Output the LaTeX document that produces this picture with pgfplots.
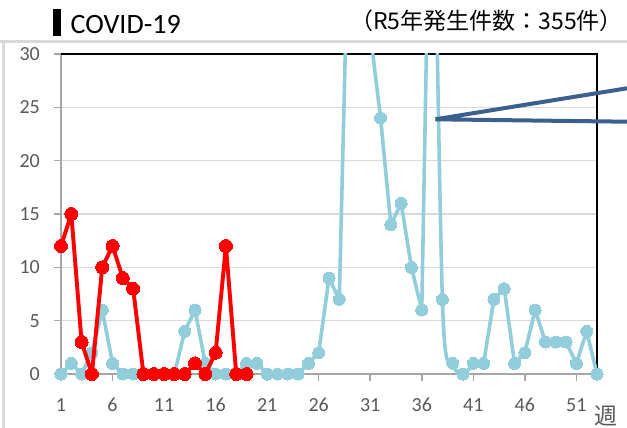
\documentclass[border=0pt]{standalone}
\usepackage{pgfplots}
\usepackage{pgfplotstable}
\pgfplotsset{compat=1.18}
\usepackage{fontspec}
\setmainfont{Carlito}
\newfontfamily\cjk{Noto Sans CJK JP}
\definecolor{lblue}{RGB}{146,205,220}
\definecolor{cred}{RGB}{255,0,0}
\definecolor{callout}{RGB}{59,95,143}
\definecolor{gridgray}{RGB}{217,217,217}
\definecolor{axisgray}{RGB}{166,166,166}
\definecolor{labelgray}{RGB}{89,89,89}

\pgfplotstableread{
week val
1 0
2 1
3 0
4 2
5 6
6 1
7 0
8 0
9 0
10 0
11 0
12 0
13 4
14 6
15 1
16 0
17 0
18 0
19 1
20 1
21 0
22 0
23 0
24 0
25 1
26 2
27 9
28 7
29 47
30 56
31 32
32 24
33 14
34 16
35 10
36 6
37 60
38 7
39 1
40 0
41 1
42 1
43 7
44 8
45 1
46 2
47 6
48 3
49 3
50 3
51 1
52 4
53 0
}\bluedata

\pgfplotstableread{
week val
1 0
2 1
3 0
4 2
5 6
6 1
7 0
8 0
9 0
10 0
11 0
12 0
13 4
14 6
15 1
16 0
17 0
18 0
19 1
20 1
21 0
22 0
23 0
24 0
25 1
26 2
27 9
28 7
32 24
33 14
34 16
35 10
36 6
38 7
39 1
40 0
41 1
42 1
43 7
44 8
45 1
46 2
47 6
48 3
49 3
50 3
51 1
52 4
53 0
}\bluemarks

\pgfplotstableread{
week val
1 12
2 15
3 3
4 0
5 10
6 12
7 9
8 8
9 0
10 0
11 0
12 0
13 0
14 1
15 0
16 2
17 12
18 0
19 0
}\reddata

\begin{document}
\begin{tikzpicture}
% outer frame
\draw[gridgray, line width=2.5bp] (-61bp,332.5bp) -- (566bp,332.5bp);
\draw[gridgray, line width=2.5bp] (-57.5bp,332.5bp) -- (-57.5bp,-54bp);
\begin{axis}[
  scale only axis, width=536bp, height=320bp,
  at={(0,0)}, anchor=south west,
  xmin=1, xmax=53, ymin=0, ymax=30,
  xtick={1,6,...,51}, ytick={0,5,...,30},
  xtick pos=bottom, ytick pos=left,
  tick align=outside, major tick length=7bp,
  tick style={draw=axisgray, line width=1.5bp},
  axis line style={draw=none},
  ymajorgrids, grid style={draw=gridgray, line width=1.3bp},
  clip mode=individual,
  /pgf/number format/assume math mode=true,
  ticklabel style={font=\fontsize{20bp}{24bp}\selectfont, text=labelgray, inner sep=0pt},
  yticklabel style={anchor=east, xshift=-14bp},
  xticklabel style={anchor=north, yshift=-17bp},
  bluel/.style={lblue, line width=3.6bp, mark=none, line join=round},
]
\draw[axisgray, line width=2.5bp] (rel axis cs:0,1) -- (rel axis cs:0,0) -- (rel axis cs:1,0);
\draw[black, line width=2.5bp] (rel axis cs:0,1) -- (rel axis cs:1,1) -- (rel axis cs:1,0);
\addplot[bluel, restrict x to domain=1:37] table[x=week, y=val] {\bluedata};
\addplot[bluel, smooth, restrict x to domain=37:41] table[x=week, y=val] {\bluedata};
\addplot[bluel, restrict x to domain=41:53] table[x=week, y=val] {\bluedata};
\addplot[only marks, mark=*, mark size=6bp, mark options={fill=lblue, draw=lblue, line width=0pt}] table[x=week, y=val] {\bluemarks};
\addplot[cred, line width=3.9bp, line join=round, mark=*, mark size=6.5bp, mark options={fill=cred, draw=cred, line width=0pt}] table[x=week, y=val] {\reddata};
\end{axis}
% callout leader lines
\draw[callout, line width=4bp, line cap=round] (566bp,285.7bp) -- (374.5bp,254.7bp) -- (566bp,252.3bp);
% title
\fill[black] (-8.3bp,338bp) rectangle (-0.3bp,364.7bp);
\node[anchor=base west, inner sep=0pt, font=\fontsize{28bp}{32bp}\selectfont] at (9.5bp,340.7bp) {COVID-19};
\node[anchor=base east, inner sep=0pt, font=\cjk\fontsize{23bp}{26bp}\selectfont] at (562bp,344bp) {（R5年発生件数：355件）};
\node[inner sep=0pt, text=labelgray, font=\cjk\fontsize{23bp}{26bp}\selectfont] at (545bp,-42bp) {週};
\pgfresetboundingbox
\path[use as bounding box] (-61bp,-54bp) rectangle (566bp,374bp);
\end{tikzpicture}
\end{document}
